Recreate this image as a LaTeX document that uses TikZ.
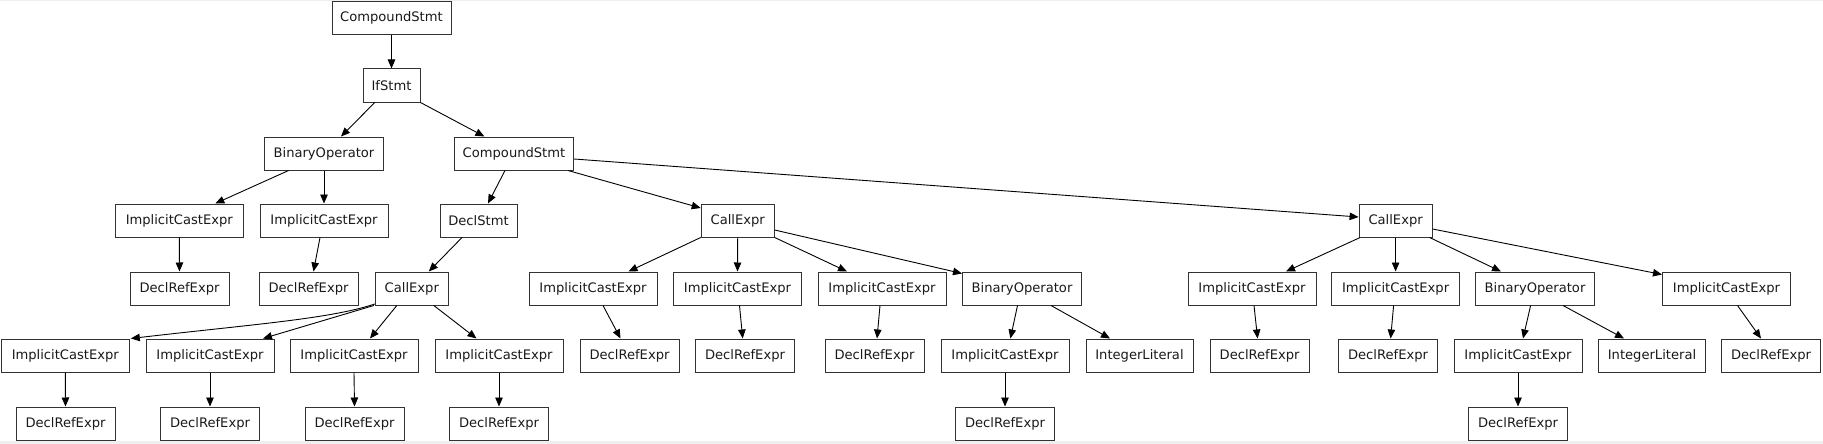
\documentclass[tikz,border=0pt]{standalone}
\usepackage{fontspec}
\setmainfont{DejaVu Sans}
\usetikzlibrary{arrows.meta}
\definecolor{boxline}{HTML}{333333}
\definecolor{stripgray}{HTML}{EFEFEF}
\tikzset{
  ast/.style={draw=boxline, line width=1pt, rectangle, inner sep=0pt,
    minimum height=33pt, text=black!90, font=\fontsize{13.1}{15}\selectfont},
  wCS/.style={ast, minimum width=119pt},
  wIf/.style={ast, minimum width=57pt},
  wBO/.style={ast, minimum width=119pt},
  wICE/.style={ast, minimum width=128pt},
  wDRE/.style={ast, minimum width=99pt},
  wDS/.style={ast, minimum width=77pt},
  wCE/.style={ast, minimum width=73pt},
  wIL/.style={ast, minimum width=107pt},
  edge/.style={draw=black, line width=0.9pt, -{Triangle[length=9pt,width=7.5pt]}}
}
\begin{document}
\begin{tikzpicture}[x=1pt, y=-1pt]
\useasboundingbox (0,0) rectangle (1823,444);
\fill[white] (0,0) rectangle (1823,444);
\fill[stripgray] (0,441) rectangle (1823,444);
\fill[stripgray] (0,0) rectangle (1823,1);
% row 0-2
\node[wCS] (cs1) at (391.5,18) {CompoundStmt};
\node[wIf] (if) at (391.5,85.5) {IfStmt};
\node[wBO] (bo1) at (324,153.5) {BinaryOperator};
\node[wCS] (cs2) at (514,153.5) {CompoundStmt};
% row 3
\node[wICE] (ice1) at (179.3,220.5) {ImplicitCastExpr};
\node[wICE] (ice2) at (324,220.5) {ImplicitCastExpr};
\node[wDS] (decl) at (478.5,220.5) {DeclStmt};
\node[wCE] (call1) at (737.7,220.5) {CallExpr};
\node[wCE] (call2) at (1395.6,220.5) {CallExpr};
% row 4
\node[wDRE] (dre1) at (179.5,288.5) {DeclRefExpr};
\node[wDRE] (dre2) at (308.5,288.5) {DeclRefExpr};
\node[wCE] (call0) at (411.8,288.5) {CallExpr};
\node[wICE] (iceA) at (593,288.5) {ImplicitCastExpr};
\node[wICE] (iceB) at (737.5,288.5) {ImplicitCastExpr};
\node[wICE] (iceC) at (882,288.5) {ImplicitCastExpr};
\node[wBO] (bo2) at (1022,288.5) {BinaryOperator};
\node[wICE] (iceD) at (1252,288.5) {ImplicitCastExpr};
\node[wICE] (iceE) at (1395.6,288.5) {ImplicitCastExpr};
\node[wBO] (bo3) at (1535,288.5) {BinaryOperator};
\node[wICE] (iceF) at (1726.5,288.5) {ImplicitCastExpr};
% row 5
\node[wICE] (ice5a) at (65.3,355.5) {ImplicitCastExpr};
\node[wICE] (ice5b) at (210,355.5) {ImplicitCastExpr};
\node[wICE] (ice5c) at (354,355.5) {ImplicitCastExpr};
\node[wICE] (ice5d) at (499,355.5) {ImplicitCastExpr};
\node[wDRE] (dreA) at (629.5,355.5) {DeclRefExpr};
\node[wDRE] (dreB) at (745,355.5) {DeclRefExpr};
\node[wDRE] (dreC) at (874.5,355.5) {DeclRefExpr};
\node[wICE] (iceG) at (1005,355.5) {ImplicitCastExpr};
\node[wIL] (int1) at (1139.5,355.5) {IntegerLiteral};
\node[wDRE] (dreD) at (1259.6,355.5) {DeclRefExpr};
\node[wDRE] (dreE) at (1388,355.5) {DeclRefExpr};
\node[wICE] (iceH) at (1518,355.5) {ImplicitCastExpr};
\node[wIL] (int2) at (1652,355.5) {IntegerLiteral};
\node[wDRE] (dreF) at (1771,355.5) {DeclRefExpr};
% row 6
\node[wDRE] (dre6a) at (65.5,423.5) {DeclRefExpr};
\node[wDRE] (dre6b) at (210,423.5) {DeclRefExpr};
\node[wDRE] (dre6c) at (354.5,423.5) {DeclRefExpr};
\node[wDRE] (dre6d) at (499,423.5) {DeclRefExpr};
\node[wDRE] (dreG) at (1005,423.5) {DeclRefExpr};
\node[wDRE] (dreH) at (1518,423.5) {DeclRefExpr};
% edges
\draw[edge] (cs1.south) -- (if.north);
\draw[edge] ([xshift=-16.7pt]if.south) -- ([xshift=17pt]bo1.north);
\draw[edge] (if.south east) -- ([xshift=-29.6pt]cs2.north);
\draw[edge] ([xshift=-35.4pt]bo1.south) -- ([xshift=36pt]ice1.north);
\draw[edge] (bo1.south) -- (ice2.north);
\draw[edge] ([xshift=-9pt]cs2.south) -- ([xshift=9.5pt]decl.north);
\draw[edge] (ice1.south) -- (dre1.north);
\draw[edge] ([xshift=-4pt]ice2.south) -- ([xshift=5pt]dre2.north);
\draw[edge] ([xshift=-16.5pt]decl.south) -- ([xshift=17pt]call0.north);
\draw[edge] ([yshift=1.5pt]call0.south west) .. controls +(-45,15) and +(120,-14) .. ([xshift=1pt]ice5a.north east);
\draw[edge] ([xshift=-1pt]call0.south west) -- ([xshift=53pt]ice5b.north);
\draw[edge] ([xshift=-15pt]call0.south) -- ([xshift=16pt]ice5c.north);
\draw[edge] ([xshift=22pt]call0.south) -- ([xshift=-22.5pt]ice5d.north);
\draw[edge] (ice5a.south) -- (dre6a.north);
\draw[edge] (ice5b.south) -- (dre6b.north);
\draw[edge] (ice5c.south) -- (dre6c.north);
\draw[edge] (ice5d.south) -- (dre6d.north);
% middle call
\draw[edge] ([xshift=54pt]cs2.south) -- ([yshift=-4.5pt]call1.north west);
\draw[edge] ([yshift=-5.5pt]cs2.east) -- ([yshift=3.5pt]call2.west);
\draw[edge] (call1.south west) -- ([xshift=35.5pt]iceA.north);
\draw[edge] (call1.south) -- (iceB.north);
\draw[edge] (call1.south east) -- ([xshift=-35pt]iceC.north);
\draw[edge] ([yshift=-9.5pt]call1.east) -- ([yshift=-2pt]bo2.north west);
\draw[edge] ([xshift=10pt]iceA.south) -- ([xshift=-9pt]dreA.north);
\draw[edge] ([xshift=2pt]iceB.south) -- ([xshift=-2.3pt]dreB.north);
\draw[edge] ([xshift=-2pt]iceC.south) -- ([xshift=2.5pt]dreC.north);
\draw[edge] ([xshift=-4.5pt]bo2.south) -- ([xshift=5.4pt]iceG.north);
\draw[edge] ([xshift=29pt]bo2.south) -- ([xshift=-29.5pt]int1.north);
\draw[edge] (iceG.south) -- (dreG.north);
% right call
\draw[edge] ([xshift=1.5pt]call2.south west) -- ([xshift=34pt]iceD.north);
\draw[edge] (call2.south) -- (iceE.north);
\draw[edge] ([xshift=-3pt]call2.south east) -- ([xshift=-34pt]bo3.north);
\draw[edge] ([yshift=-8.5pt]call2.east) -- ([yshift=-3pt]iceF.north west);
\draw[edge] ([xshift=2pt]iceD.south) -- ([xshift=-2pt]dreD.north);
\draw[edge] ([xshift=-2pt]iceE.south) -- ([xshift=2.6pt]dreE.north);
\draw[edge] ([xshift=-4.4pt]bo3.south) -- ([xshift=5pt]iceH.north);
\draw[edge] ([xshift=28pt]bo3.south) -- ([xshift=-28pt]int2.north);
\draw[edge] (iceH.south) -- (dreH.north);
\draw[edge] ([xshift=11pt]iceF.south) -- ([xshift=-10pt]dreF.north);
\end{tikzpicture}
\end{document}
